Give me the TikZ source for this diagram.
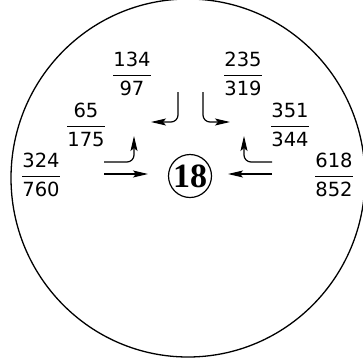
\documentclass[tikz,border=0pt]{standalone}
\usepackage{amsmath}
\usepackage{fontspec}
\setmainfont{DejaVu Sans}
\newfontfamily\numfont{Liberation Serif}
\usetikzlibrary{arrows.meta}
\newcommand\fr[2]{\fontsize{19.5}{23}\selectfont$\dfrac{\text{#1}}{\text{#2}}$}
\tikzset{
  frac/.style={inner sep=0pt},
  arr/.style={line width=1.2pt,-{Stealth[length=15pt,width=7pt,inset=3pt]},rounded corners=7pt},
  bignum/.style={circle,draw,line width=1.2pt,minimum size=43pt,inner sep=0pt,font=\numfont\bfseries\fontsize{34}{34}\selectfont}
}
\begin{document}
\begin{tikzpicture}[x=1pt,y=-1pt]
\useasboundingbox (0,0) rectangle (363,362);
\clip (0,0) rectangle (363,362);
\draw[line width=1.3pt] (188,178) ellipse [x radius=177, y radius=179];
\node[bignum] (c) at (190,176) {18};
\node[frac] (a) at (132,74) {\fr{134}{97}};
\node[frac] (b) at (243,74) {\fr{235}{319}};
\node[frac] (d) at (86,125) {\fr{65}{175}};
\node[frac] (e) at (290,125) {\fr{351}{344}};
\node[frac] (f) at (41,175) {\fr{324}{760}};
\node[frac] (g) at (334,175) {\fr{618}{852}};
% arrows
\coordinate (l1s) at (104,174); \coordinate (l1e) at (148,174);
\coordinate (r1s) at (272,174); \coordinate (r1e) at (228,174);
\coordinate (l2s) at (104,162); \coordinate (l2m) at (134,162); \coordinate (l2e) at (134,136);
\coordinate (r2s) at (272,162); \coordinate (r2m) at (244,162); \coordinate (r2e) at (244,136);
\coordinate (t1s) at (178,92); \coordinate (t1m) at (178,122); \coordinate (t1e) at (151,122);
\coordinate (t2s) at (203,92); \coordinate (t2m) at (203,122); \coordinate (t2e) at (230,122);
\draw[arr] (l1s) -- (l1e);
\draw[arr] (r1s) -- (r1e);
\draw[arr] (l2s) -- (l2m) -- (l2e);
\draw[arr] (r2s) -- (r2m) -- (r2e);
\draw[arr] (t1s) -- (t1m) -- (t1e);
\draw[arr] (t2s) -- (t2m) -- (t2e);
\end{tikzpicture}
\end{document}
